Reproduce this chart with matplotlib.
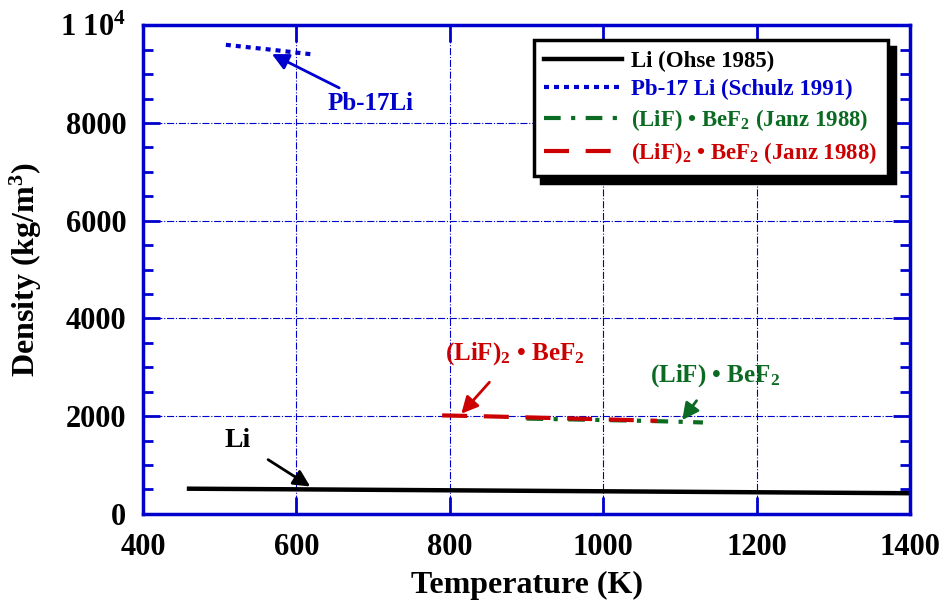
import matplotlib
matplotlib.use("Agg")
import matplotlib.pyplot as plt
from matplotlib.ticker import MultipleLocator

plt.rcParams['font.family'] = ['Liberation Serif', 'DejaVu Serif']
plt.rcParams['font.weight'] = 'bold'
plt.rcParams['mathtext.fontset'] = 'custom'
plt.rcParams['mathtext.rm'] = 'Liberation Serif:bold'
plt.rcParams['mathtext.bf'] = 'Liberation Serif:bold'
plt.rcParams['mathtext.it'] = 'Liberation Serif:bold'

# 数据
li_T = [460, 500, 600, 700, 800, 900, 1000, 1100, 1200, 1300, 1400]
li_rho = [515, 511, 502, 492, 482, 472, 462, 452, 442, 432, 422]

pbli_T = [508, 540, 570, 600, 623]
pbli_rho = [9600, 9545, 9495, 9440, 9400]

lifbef2_T = [900, 950, 1000, 1050, 1100, 1130]
lifbef2_rho = [1950, 1935, 1920, 1905, 1885, 1870]

lif2bef2_T = [790, 850, 900, 950, 1000, 1070]
lif2bef2_rho = [2015, 1995, 1975, 1955, 1935, 1905]

ytick_vals = [0, 2000, 4000, 6000, 8000, 10000]
ytick_labels = ['0', '2000', '4000', '6000', '8000', '1 10$^4$']

blue = '#0000cc'
green = '#0b6b22'
red = '#cc0000'

fig = plt.figure(figsize=(9.44, 6.01), dpi=100)
ax = fig.add_axes([0.1515, 0.145, 0.8125, 0.813])

ax.plot(li_T, li_rho, color='black', lw=3.2, label='Li (Ohse 1985)')
ax.plot(pbli_T, pbli_rho, color=blue, lw=3, linestyle=(0, (1.2, 1.2)),
        label='Pb-17 Li (Schulz 1991)')
ax.plot(lifbef2_T, lifbef2_rho, color=green, lw=3,
        linestyle=(0, (4, 2.5, 1, 2.5)), label='(LiF) • BeF$_2$ (Janz 1988)')
ax.plot(lif2bef2_T, lif2bef2_rho, color=red, lw=3, linestyle=(0, (6, 4)),
        label='(LiF)$_2$ • BeF$_2$ (Janz 1988)')

ax.set_xlim(400, 1400)
ax.set_ylim(0, 10000)
ax.xaxis.set_major_locator(MultipleLocator(200))
ax.yaxis.set_minor_locator(MultipleLocator(500))
ax.set_yticks(ytick_vals)
ax.set_yticklabels(ytick_labels)

ax.tick_params(which='both', direction='in', top=True, right=True,
               color=blue, labelsize=22)
ax.tick_params(axis='x', pad=14)
ax.tick_params(axis='y', pad=12)
ax.tick_params(which='major', length=12, width=2)
ax.tick_params(which='minor', length=7, width=2)
for sp in ax.spines.values():
    sp.set_color(blue)
    sp.set_linewidth(2.5)

ax.grid(True, which='major', color=blue, linestyle='-.', linewidth=0.8)

ax.set_xlabel('Temperature (K)', fontsize=23, fontweight='bold', labelpad=6)
ax.set_ylabel('Density (kg/m$^3$)', fontsize=23, fontweight='bold',
              labelpad=12)

# 注释
ax.annotate('Pb-17Li', xy=(568, 9410), xytext=(640, 8400), color=blue,
            fontsize=18, fontweight='bold', va='center',
            arrowprops=dict(arrowstyle='-|>', color=blue, lw=2,
                            mutation_scale=25, shrinkA=2, shrinkB=0))
ax.annotate('(LiF)$_2$ • BeF$_2$', xy=(815, 2050), xytext=(885, 3280),
            color=red, fontsize=18, fontweight='bold', ha='center',
            va='center',
            arrowprops=dict(arrowstyle='-|>', color=red, lw=2,
                            mutation_scale=25, shrinkA=12, shrinkB=0))
ax.annotate('(LiF) • BeF$_2$', xy=(1103, 1920), xytext=(1146, 2830),
            color=green, fontsize=18, fontweight='bold', ha='center',
            va='center',
            arrowprops=dict(arrowstyle='-|>', color=green, lw=2,
                            mutation_scale=25, shrinkA=8, shrinkB=0))
ax.annotate('Li', xy=(618, 560), xytext=(524, 1500), color='black',
            fontsize=20, fontweight='bold', ha='center', va='center',
            arrowprops=dict(arrowstyle='-|>', color='black', lw=2,
                            mutation_scale=25, shrinkA=12, shrinkB=0))

leg = ax.legend(loc='upper right', bbox_to_anchor=(0.971, 0.969),
                borderaxespad=0, fontsize=16.5, frameon=True, fancybox=False,
                shadow={'color': 'black', 'alpha': 1, 'ox': 5, 'oy': -5},
                handlelength=3.4, handletextpad=0.4, labelspacing=0.3,
                borderpad=0.45, framealpha=1)
leg.get_frame().set_edgecolor('black')
leg.get_frame().set_linewidth(2.5)
for txt, c in zip(leg.get_texts(), ['black', blue, green, red]):
    txt.set_color(c)

fig.savefig('out.png', dpi=100)
